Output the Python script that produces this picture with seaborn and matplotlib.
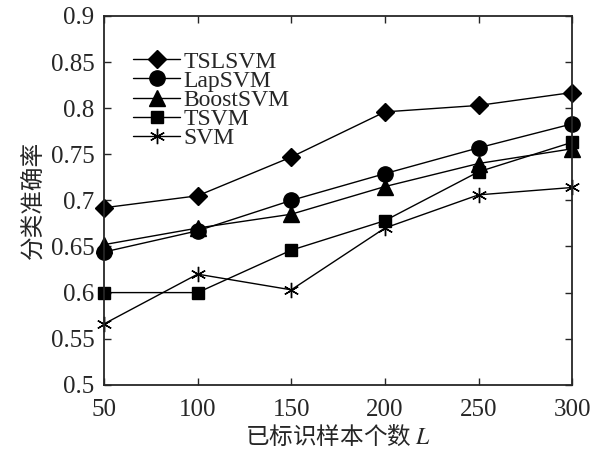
import pandas as pd
import seaborn as sns
import matplotlib.pyplot as plt

# data
sizes = [50, 100, 150, 200, 250, 300]
tslsvm = [0.692, 0.705, 0.747, 0.796, 0.803, 0.817]
lapsvm = [0.644, 0.667, 0.700, 0.729, 0.757, 0.783]
boostsvm = [0.652, 0.670, 0.685, 0.715, 0.740, 0.756]
tsvm = [0.600, 0.600, 0.646, 0.678, 0.731, 0.763]
svm = [0.566, 0.620, 0.603, 0.670, 0.706, 0.714]

methods = ['TSLSVM', 'LapSVM', 'BoostSVM', 'TSVM', 'SVM']
series = [tslsvm, lapsvm, boostsvm, tsvm, svm]
markers = ['D', 'o', '^', 's', (6, 2, 0)]
msizes = [9, 11, 11, 9, 11]

df = pd.DataFrame({
    'L': sizes * len(methods),
    'acc': [v for s in series for v in s],
    'method': [m for m in methods for _ in sizes],
})

sns.set_style('ticks')
plt.rcParams['font.family'] = ['Liberation Serif', 'Noto Sans CJK SC', 'DejaVu Sans']
plt.rcParams['mathtext.fontset'] = 'stix'

fig = plt.figure(figsize=(6.01, 4.57), dpi=100)
ax = fig.add_axes([0.173, 0.158, 0.779, 0.807])

for m, mk, ms in zip(methods, markers, msizes):
    sub = df[df['method'] == m]
    sns.lineplot(data=sub, x='L', y='acc', ax=ax, color='black', linewidth=1.0,
                 marker=mk, markersize=ms, markeredgecolor='black',
                 markerfacecolor='black', markeredgewidth=1.0, label=m,
                 clip_on=False)

ax.set_xlim(50, 300)
ax.set_ylim(0.5, 0.9)
ax.set_xticks(sizes)
ax.set_yticks([0.5, 0.55, 0.6, 0.65, 0.7, 0.75, 0.8, 0.85, 0.9])
ax.set_yticklabels(['0.5', '0.55', '0.6', '0.65', '0.7', '0.75', '0.8', '0.85', '0.9'])
ax.tick_params(direction='in', top=True, right=True, labelsize=18, length=5, width=1)
ax.tick_params(axis='x', pad=10)
ax.tick_params(axis='y', pad=7)
for sp in ax.spines.values():
    sp.set_linewidth(1.3)
    sp.set_visible(True)

ax.set_xlabel('已标识样本个数 $L$', fontsize=17, family=['Noto Sans CJK SC', 'DejaVu Sans'], labelpad=2)
ax.set_ylabel('分类准确率', fontsize=17, family=['Noto Sans CJK SC', 'DejaVu Sans'], labelpad=4)

leg = ax.legend(loc='upper left', bbox_to_anchor=(0.062, 0.905), frameon=False, fontsize=17,
                handlelength=2.0, handletextpad=0.13, labelspacing=-0.1,
                borderpad=0, borderaxespad=0)

fig.savefig('out.png', dpi=100)
